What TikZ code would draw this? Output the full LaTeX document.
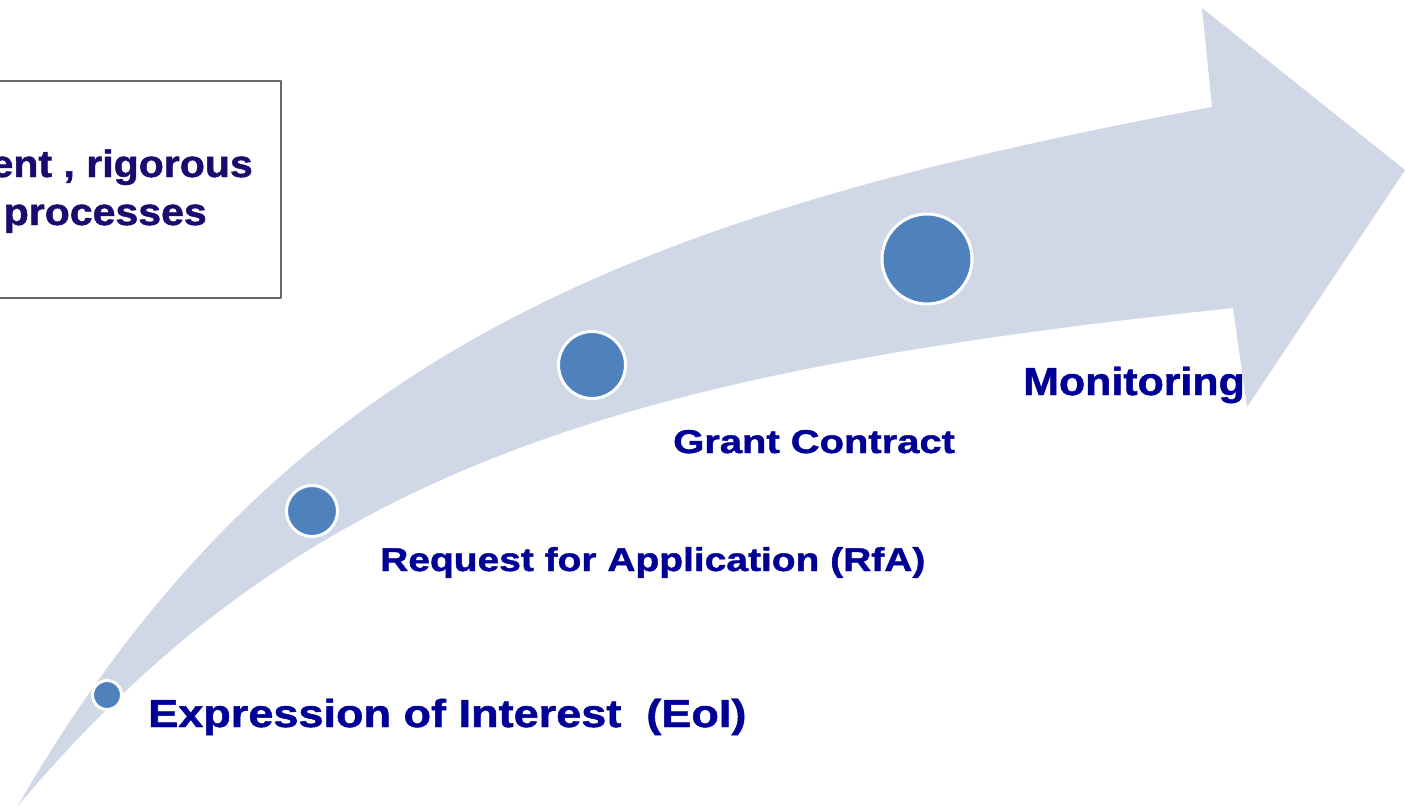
\documentclass[tikz,border=0pt]{standalone}
\usepackage{fontspec}
\setmainfont{Liberation Sans}
\newfontfamily\heavyfont{Liberation Sans}[BoldFeatures={FakeBold=1.2}]
\definecolor{bandblue}{RGB}{208,216,232}
\definecolor{dotblue}{RGB}{79,129,189}
\definecolor{labelblue}{RGB}{0,0,150}
\definecolor{boxtext}{RGB}{28,10,112}
\definecolor{boxline}{RGB}{105,105,105}
\begin{document}
\begin{tikzpicture}[x=1pt,y=-1pt,line join=round]
	\tikzset{stage/.style={circle,fill=dotblue,draw=white,line width=3pt,inner sep=0pt},
		steplabel/.style={anchor=base west,text=labelblue,inner sep=0pt,font=\heavyfont\bfseries\fontsize{#1}{#1}\selectfont},
		boxline/.style={anchor=base east,text=boxtext,inner sep=0pt,xscale=1.08,font=\heavyfont\bfseries\fontsize{38}{38}\selectfont}}
	\useasboundingbox (0,0) rectangle (1405,808);
	% curved arrow
	\fill[bandblue] (17,807) .. controls (277,357) and (622,217) .. (1212,107)
		-- (1202,8) -- (1405,170) -- (1247,407) -- (1233,308)
		.. controls (636,371) and (306,462) .. cycle;
	% box at the left
	\node[draw=boxline,line width=2pt,anchor=north east,minimum width=300pt,minimum height=217pt] (frame) at (282,80) {};
	\node[boxline] (line1) at (253,177) {ent , rigorous};
	\node[boxline] (line2) at (207,225) {processes};
	% stages
	\node[stage,minimum size=29pt] (eoi) at (107,695) {};
	\node[stage,minimum size=51pt] (rfa) at (312,511) {};
	\node[stage,minimum size=67pt] (gc) at (592,365) {};
	\node[stage,minimum size=90pt] (mon) at (927,259) {};
	\node[steplabel=39,xscale=1.155] (eoilabel) at (148,727) {Expression of Interest\ \ (EoI)};
	\node[steplabel=33,xscale=1.18] (rfalabel) at (380,571) {Request for Application (RfA)};
	\node[steplabel=33,xscale=1.21] (gclabel) at (673,453) {Grant Contract};
	\node[steplabel=39,xscale=1.1] (monlabel) at (1023,395) {Monitoring};
\end{tikzpicture}
\end{document}
